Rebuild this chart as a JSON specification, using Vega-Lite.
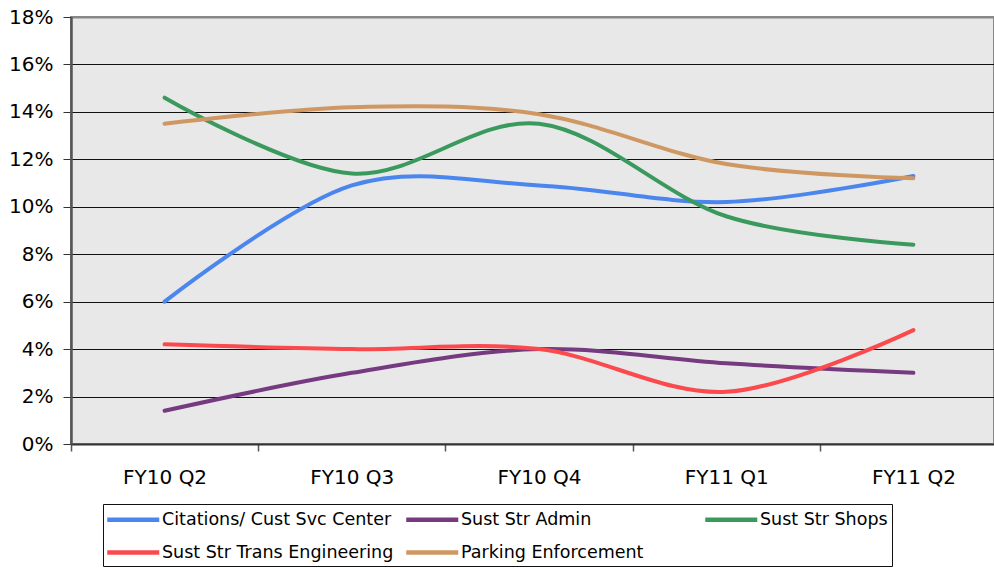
{
  "$schema": "https://vega.github.io/schema/vega-lite/v6.json",
  "autosize": "none",
  "width": 923,
  "height": 427,
  "padding": {"left": 71, "top": 17, "right": 0, "bottom": 124},
  "background": "white",
  "config": {
    "font": "DejaVu Sans",
    "view": {"fill": "#e8e8e8", "stroke": "#888888", "strokeWidth": 2}
  },
  "data": {
    "values": [
      {"series": "Citations/ Cust Svc Center", "quarter": "FY10 Q2", "value": 0.060},
      {"series": "Citations/ Cust Svc Center", "quarter": "FY10 Q3", "value": 0.109},
      {"series": "Citations/ Cust Svc Center", "quarter": "FY10 Q4", "value": 0.109},
      {"series": "Citations/ Cust Svc Center", "quarter": "FY11 Q1", "value": 0.102},
      {"series": "Citations/ Cust Svc Center", "quarter": "FY11 Q2", "value": 0.113},
      {"series": "Sust Str Admin", "quarter": "FY10 Q2", "value": 0.014},
      {"series": "Sust Str Admin", "quarter": "FY10 Q3", "value": 0.030},
      {"series": "Sust Str Admin", "quarter": "FY10 Q4", "value": 0.040},
      {"series": "Sust Str Admin", "quarter": "FY11 Q1", "value": 0.034},
      {"series": "Sust Str Admin", "quarter": "FY11 Q2", "value": 0.030},
      {"series": "Sust Str Shops", "quarter": "FY10 Q2", "value": 0.146},
      {"series": "Sust Str Shops", "quarter": "FY10 Q3", "value": 0.114},
      {"series": "Sust Str Shops", "quarter": "FY10 Q4", "value": 0.135},
      {"series": "Sust Str Shops", "quarter": "FY11 Q1", "value": 0.096},
      {"series": "Sust Str Shops", "quarter": "FY11 Q2", "value": 0.084},
      {"series": "Sust Str Trans Engineering", "quarter": "FY10 Q2", "value": 0.042},
      {"series": "Sust Str Trans Engineering", "quarter": "FY10 Q3", "value": 0.040},
      {"series": "Sust Str Trans Engineering", "quarter": "FY10 Q4", "value": 0.040},
      {"series": "Sust Str Trans Engineering", "quarter": "FY11 Q1", "value": 0.022},
      {"series": "Sust Str Trans Engineering", "quarter": "FY11 Q2", "value": 0.048},
      {"series": "Parking Enforcement", "quarter": "FY10 Q2", "value": 0.135},
      {"series": "Parking Enforcement", "quarter": "FY10 Q3", "value": 0.142},
      {"series": "Parking Enforcement", "quarter": "FY10 Q4", "value": 0.139},
      {"series": "Parking Enforcement", "quarter": "FY11 Q1", "value": 0.118},
      {"series": "Parking Enforcement", "quarter": "FY11 Q2", "value": 0.112}
    ]
  },
  "mark": {"type": "line", "interpolate": "cardinal", "strokeWidth": 4, "strokeCap": "round"},
  "encoding": {
    "x": {
      "field": "quarter",
      "type": "ordinal",
      "scale": {"range": [0, 936], "paddingInner": 0, "paddingOuter": 0},
      "axis": {
        "title": null,
        "labelAngle": 0,
        "labelFontSize": 20,
        "labelColor": "black",
        "labelPadding": 16,
        "tickBand": "extent",
        "tickSize": 7,
        "tickColor": "#555555",
        "tickWidth": 1.5,
        "domainColor": "#333333",
        "domainWidth": 2,
        "grid": false
      }
    },
    "y": {
      "field": "value",
      "type": "quantitative",
      "scale": {"domain": [0, 0.18], "nice": false},
      "axis": {
        "title": null,
        "values": [0, 0.02, 0.04, 0.06, 0.08, 0.1, 0.12, 0.14, 0.16, 0.18],
        "format": ".0%",
        "labelFontSize": 20,
        "labelColor": "black",
        "labelPadding": 10,
        "tickSize": 8,
        "tickColor": "#333333",
        "tickWidth": 1,
        "domainColor": "#555555",
        "domainWidth": 2.5,
        "grid": true,
        "gridColor": {"expr": "datum.value >= 0.179 ? '#888888' : '#111111'"},
        "gridWidth": {"expr": "datum.value >= 0.179 ? 2 : 1"},
        "gridOpacity": 1
      }
    },
    "color": {
      "field": "series",
      "type": "nominal",
      "scale": {
        "domain": ["Citations/ Cust Svc Center", "Sust Str Admin", "Sust Str Shops", "Sust Str Trans Engineering", "Parking Enforcement"],
        "range": ["#4a86ee", "#763a80", "#3a9a5e", "#fb4a4e", "#cf9863"]
      },
      "legend": {
        "title": null,
        "orient": "none",
        "legendX": 32,
        "legendY": 487,
        "direction": "horizontal",
        "columns": 3,
        "gridAlign": "all",
        "columnPadding": 3,
        "rowPadding": 12,
        "padding": 4,
        "strokeColor": "#111111",
        "symbolType": "M-1.25,0H4.53",
        "symbolSize": 324,
        "symbolStrokeWidth": 4.5,
        "labelOffset": 32,
        "labelFontSize": 17.5,
        "labelColor": "black",
        "labelLimit": 400
      }
    }
  }
}
